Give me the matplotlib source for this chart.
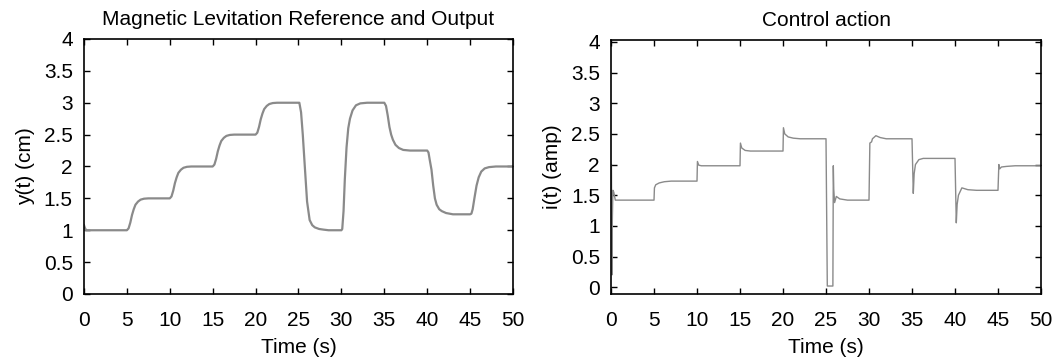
import matplotlib
matplotlib.use("Agg")
import matplotlib.pyplot as plt

plt.rcParams['font.family'] = ['Liberation Sans', 'DejaVu Sans']

# Output y(t) (time in s, position in cm)
t_out = [0.0, 0.1, 0.25,
         5.0, 5.2, 5.4, 5.6, 5.8, 6.0, 6.3, 6.6, 7.0, 7.5,
         10.0, 10.2, 10.4, 10.6, 10.8, 11.0, 11.3, 11.6, 12.0, 12.5,
         15.0, 15.2, 15.4, 15.6, 15.8, 16.0, 16.3, 16.6, 17.0, 17.5,
         20.0, 20.2, 20.4, 20.6, 20.8, 21.0, 21.3, 21.6, 22.0, 22.5,
         25.0, 25.1, 25.3, 25.5, 25.76, 26.0, 26.3, 26.6, 26.9, 27.4, 27.9, 28.5,
         30.0, 30.1, 30.25, 30.4, 30.6, 30.8, 31.0, 31.3, 31.7, 32.2, 33.0,
         35.0, 35.2, 35.4, 35.6, 35.8, 36.0, 36.3, 36.7, 37.2, 38.0,
         40.0, 40.15, 40.3, 40.5, 40.7, 40.9, 41.1, 41.4, 41.7, 42.2, 43.0,
         45.0, 45.15, 45.3, 45.5, 45.75, 46.0, 46.3, 46.7, 47.2, 48.0,
         50.0]
y_out = [1.08, 1.04, 1.0,
         1.0, 1.03, 1.12, 1.24, 1.33, 1.40, 1.45, 1.48, 1.495, 1.5,
         1.5, 1.53, 1.62, 1.74, 1.83, 1.90, 1.95, 1.98, 1.995, 2.0,
         2.0, 2.03, 2.12, 2.24, 2.33, 2.40, 2.45, 2.48, 2.495, 2.5,
         2.5, 2.53, 2.62, 2.74, 2.83, 2.90, 2.95, 2.98, 2.995, 3.0,
         3.0, 3.0, 2.85, 2.5, 1.95, 1.45, 1.16, 1.08, 1.045, 1.02, 1.01, 1.0,
         1.0, 1.02, 1.3, 1.8, 2.3, 2.6, 2.75, 2.88, 2.96, 2.99, 3.0,
         3.0, 2.95, 2.8, 2.62, 2.5, 2.42, 2.34, 2.29, 2.26, 2.25,
         2.25, 2.22, 2.1, 1.95, 1.7, 1.5, 1.4, 1.33, 1.3, 1.27, 1.25,
         1.25, 1.26, 1.33, 1.5, 1.7, 1.83, 1.92, 1.97, 1.99, 2.0,
         2.0]

# Control action i(t) (time in s, current in amp)
t_ctl = [0.05, 0.1, 0.14, 0.22, 0.32, 0.5,
         5.0, 5.05, 5.2, 5.6, 6.2, 7.0,
         10.0, 10.05, 10.2, 10.5, 11.0,
         15.0, 15.05, 15.2, 15.6, 16.2,
         20.0, 20.05, 20.2, 20.6, 21.2, 22.0,
         25.0, 25.15, 25.8, 25.85, 25.9, 26.0, 26.2, 26.6, 27.5,
         30.0, 30.1, 30.3, 30.4, 30.8, 31.3, 32.0,
         35.0, 35.15, 35.25, 35.4, 35.8, 36.3,
         40.0, 40.15, 40.25, 40.4, 40.8, 41.5, 42.5,
         45.0, 45.1, 45.2, 45.4, 46.0, 47.0,
         50.0]
i_ctl = [2.0, 0.2, 1.0, 1.58, 1.55, 1.42,
         1.42, 1.62, 1.67, 1.70, 1.72, 1.73,
         1.73, 2.05, 1.99, 1.98, 1.98,
         1.98, 2.35, 2.27, 2.23, 2.22,
         2.22, 2.6, 2.5, 2.45, 2.43, 2.42,
         2.42, 0.02, 0.02, 1.98, 1.6, 1.38, 1.48, 1.44, 1.42,
         1.42, 2.35, 2.37, 2.42, 2.47, 2.44, 2.42,
         2.42, 1.53, 1.85, 2.0, 2.08, 2.1,
         2.1, 1.05, 1.35, 1.5, 1.62, 1.59, 1.58,
         1.58, 2.0, 1.93, 1.96, 1.97, 1.98,
         1.98]

line_color = '#8a8a8a'
fs = 15

fig = plt.figure(figsize=(10.63, 3.61), dpi=100)
ax1 = fig.add_axes([0.079, 0.1856, 0.4036, 0.7064])
ax2 = fig.add_axes([0.5748, 0.1856, 0.4045, 0.7036])

ax1.plot(t_out, y_out, color=line_color, lw=1.6)
ax1.set_xlim(0, 50)
ax1.set_ylim(0, 4)
ax1.set_title('Magnetic Levitation Reference and Output', fontsize=fs, pad=10)
ax1.set_ylabel('y(t) (cm)', fontsize=fs, labelpad=6)

ax2.plot(t_ctl, i_ctl, color=line_color, lw=1.0)
ax2.set_xlim(0, 50)
ax2.set_ylim(-0.11, 4.03)
ax2.set_title('Control action', fontsize=fs, pad=10)
ax2.set_ylabel('i(t) (amp)', fontsize=fs, labelpad=6)

for ax in (ax1, ax2):
    ax.set_xticks(range(0, 51, 5))
    ax.set_yticks([0, 0.5, 1, 1.5, 2, 2.5, 3, 3.5, 4])
    ax.set_yticklabels(['0', '0.5', '1', '1.5', '2', '2.5', '3', '3.5', '4'])
    ax.set_xlabel('Time (s)', fontsize=fs, labelpad=6)
    ax.tick_params(direction='in', top=True, right=True, length=4,
                   width=1, labelsize=fs, pad=8)
    ax.tick_params(axis='x', pad=12)
    for s in ax.spines.values():
        s.set_linewidth(1.2)

plt.savefig('out.png', dpi=100)
